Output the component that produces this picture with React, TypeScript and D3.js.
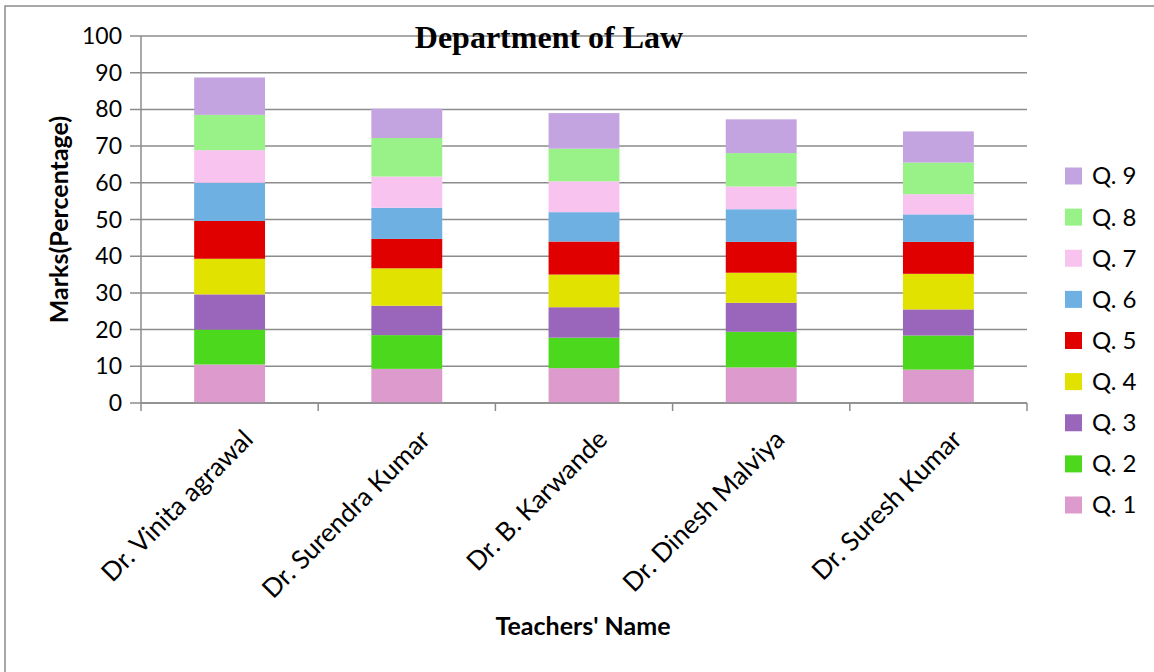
import * as d3 from "d3";

const teachers = [
  "Dr. Vinita agrawal",
  "Dr. Surendra Kumar",
  "Dr. B. Karwande",
  "Dr. Dinesh Malviya",
  "Dr. Suresh Kumar",
];

const questions = ["Q. 1", "Q. 2", "Q. 3", "Q. 4", "Q. 5", "Q. 6", "Q. 7", "Q. 8", "Q. 9"];

// marks per question, one value per teacher
const q1 = [10.5, 9.3, 9.5, 9.7, 9.1];
const q2 = [9.5, 9.2, 8.3, 9.7, 9.3];
const q3 = [9.6, 8.0, 8.3, 7.9, 7.1];
const q4 = [9.7, 10.2, 8.9, 8.2, 9.7];
const q5 = [10.3, 8.0, 9.0, 8.4, 8.7];
const q6 = [10.4, 8.5, 8.0, 8.9, 7.5];
const q7 = [8.9, 8.5, 8.4, 6.2, 5.5];
const q8 = [9.6, 10.5, 8.9, 9.1, 8.6];
const q9 = [10.2, 8.0, 9.7, 9.2, 8.5];

const yTicks = [0, 10, 20, 30, 40, 50, 60, 70, 80, 90, 100];

const colors = [
  "#dd9bcd",
  "#4cd81c",
  "#9966bb",
  "#e2e200",
  "#e00000",
  "#6eb0e2",
  "#f8c4ef",
  "#98f288",
  "#c3a4e0",
];

const W = 1154;
const H = 672;
const left = 141;
const right = 1027;
const top = 36;
const bottom = 403;
const font = "Lato, 'Open Sans', sans-serif";
const grey = "#8c8c8c";

export default function App() {
  const series = [q1, q2, q3, q4, q5, q6, q7, q8, q9];
  const rows = teachers.map((t, i) => {
    const row: Record<string, number | string> = { teacher: t };
    questions.forEach((q, j) => (row[q] = series[j][i]));
    return row;
  });
  const stacked = d3.stack<Record<string, number | string>>().keys(questions)(rows as any);

  const x = d3.scaleBand().domain(teachers).range([left, right]).paddingInner(0.6).paddingOuter(0.3);
  const xEdge = d3.scaleBand().domain(teachers).range([left, right]);
  const y = d3.scaleLinear().domain([0, 100]).range([bottom, top]);
  const color = d3.scaleOrdinal<string>().domain(questions).range(colors);
  const legendY = d3
    .scalePoint<string>()
    .domain([...questions].reverse())
    .range([176, 505]);

  return (
    <svg
      width={W}
      height={H}
      style={{ position: "absolute", left: 0, top: 0, background: "#fff" }}
    >
      <rect x={5} y={6} width={W + 10} height={H + 10} fill="#fff" stroke={grey} strokeWidth={1.5} />

      {yTicks.map((t) => (
        <g key={t}>
          <line x1={130} x2={right} y1={y(t)} y2={y(t)} stroke={grey} strokeWidth={1.5} />
          <text
            x={122}
            y={y(t)}
            dy="0.35em"
            textAnchor="end"
            fontFamily={font}
            fontSize={23}
            fill="#000"
          >
            {t}
          </text>
        </g>
      ))}

      {stacked.map((s) => (
        <g key={s.key} fill={color(s.key)}>
          {s.map((d, i) => (
            <rect
              key={i}
              x={x(teachers[i])}
              width={x.bandwidth()}
              y={y(d[1])}
              height={y(d[0]) - y(d[1])}
            />
          ))}
        </g>
      ))}

      <line x1={left} x2={left} y1={top} y2={bottom + 8} stroke={grey} strokeWidth={1.5} />
      <line x1={left} x2={right} y1={bottom} y2={bottom} stroke={grey} strokeWidth={1.5} />
      {teachers.map((t) => (
        <line
          key={t}
          x1={(xEdge(t) ?? 0) + xEdge.bandwidth()}
          x2={(xEdge(t) ?? 0) + xEdge.bandwidth()}
          y1={bottom}
          y2={bottom + 8}
          stroke={grey}
          strokeWidth={1.5}
        />
      ))}

      {teachers.map((t) => {
        const cx = (x(t) ?? 0) + x.bandwidth() / 2 + 25;
        const cy = bottom + 38;
        return (
          <text
            key={t}
            transform={`translate(${cx},${cy}) rotate(-45)`}
            textAnchor="end"
            fontFamily={font}
            fontSize={26}
            fill="#000"
          >
            {t}
          </text>
        );
      })}

      <text
        x={549}
        y={48}
        textAnchor="middle"
        fontFamily="'Liberation Serif', 'Times New Roman', serif"
        fontWeight="bold"
        fontSize={32}
        fill="#000"
      >
        Department of Law
      </text>

      <text
        transform={`translate(68,${(top + bottom) / 2}) rotate(-90)`}
        textAnchor="middle"
        fontFamily={font}
        fontWeight="bold"
        fontSize={25}
        fill="#000"
      >
        Marks(Percentage)
      </text>

      <text
        x={583}
        y={635}
        textAnchor="middle"
        fontFamily={font}
        fontWeight="bold"
        fontSize={25}
        fill="#000"
      >
        Teachers' Name
      </text>

      {questions.map((q) => (
        <g key={q} transform={`translate(1065,${legendY(q)})`}>
          <rect x={0} y={-8.5} width={17} height={17} fill={color(q)} />
          <text x={27} dy="0.35em" fontFamily={font} fontSize={24} fill="#000">
            {q}
          </text>
        </g>
      ))}
    </svg>
  );
}
